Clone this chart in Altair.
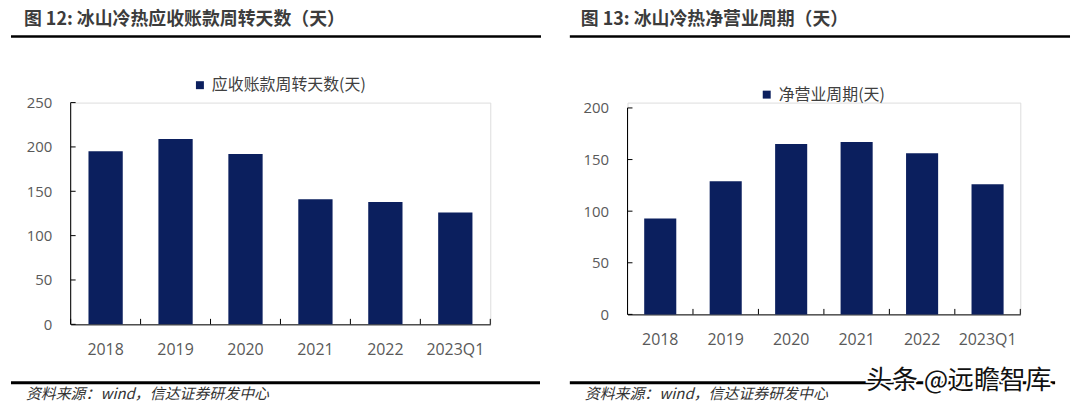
import altair as alt
import pandas as pd

# ---------------- data ----------------
cats = ["2018", "2019", "2020", "2021", "2022", "2023Q1"]
ar_days = [195, 209, 192, 141, 138, 126]          # 应收账款周转天数
net_cycle = [93, 129, 165, 167, 156, 126]         # 净营业周期
left_ticks = [0, 50, 100, 150, 200, 250]
right_ticks = [0, 50, 100, 150, 200]

title_left = "图 12: 冰山冷热应收账款周转天数（天）"
title_right = "图 13: 冰山冷热净营业周期（天）"
legend_left = "应收账款周转天数(天)"
legend_right = "净营业周期(天)"
source_text = "资料来源：wind，信达证券研发中心"
watermark = "头条 @远瞻智库"

NAVY = "#0b1f5e"
LABEL = "#595959"
NUMFONT = "Open Sans"
CJK = "Noto Sans CJK SC"


def one(v):
    return pd.DataFrame({"t": [v]})


def panel(values, ticks, dmax, width, height, legend_name, legend_x, legend_y,
          title, title_x, trule, brule, src_x, wm=False):
    df = pd.DataFrame({"cat": cats, "val": values, "series": legend_name})
    xscale = alt.Scale(domain=cats, paddingInner=0, paddingOuter=0)
    yscale = alt.Scale(domain=[0, dmax], nice=False, zero=True)
    xaxis = alt.Axis(title=None, labelAngle=0, ticks=False, tickSize=0,
                     domain=True, domainColor="black", domainWidth=1,
                     labelPadding=17, labelFontSize=16, labelColor=LABEL,
                     labelFont=NUMFONT, grid=False)
    yaxis = alt.Axis(title=None, values=ticks, ticks=False, tickSize=0,
                     domain=False, grid=False, labelPadding=19,
                     labelFontSize=15, labelColor=LABEL, labelFont=NUMFONT)

    bars = alt.Chart(df).mark_bar(width=alt.RelativeBandSize(0.49)).encode(
        x=alt.X("cat:N", sort=cats, scale=xscale, axis=xaxis),
        y=alt.Y("val:Q", scale=yscale, axis=yaxis),
        color=alt.Color("series:N", scale=alt.Scale(range=[NAVY]),
                        legend=alt.Legend(orient="none", legendX=legend_x, legendY=legend_y,
                                          title=None, symbolType="square", symbolSize=64,
                                          symbolStrokeWidth=0, padding=0,
                                          labelFont=CJK, labelFontSize=16,
                                          labelColor="#404040", labelOffset=4)),
    )

    ydom = alt.Chart(pd.DataFrame({"y0": [0], "y1": [ticks[-1]]})).mark_rule(
        color="black", strokeWidth=1).encode(
        x=alt.value(0),
        y=alt.Y("y0:Q", scale=yscale, axis=yaxis),
        y2="y1:Q",
    )
    yt = alt.Chart(pd.DataFrame({"val": ticks})).mark_rule(color="black", strokeWidth=1).encode(
        x=alt.value(0), x2=alt.value(5),
        y=alt.Y("val:Q", scale=yscale, axis=yaxis),
    )
    xt0 = alt.Chart(pd.DataFrame({"cat": cats})).mark_rule(color="black", strokeWidth=1).encode(
        x=alt.X("cat:N", sort=cats, scale=xscale, bandPosition=0, axis=xaxis),
        y=alt.value(height - 5.5), y2=alt.value(height),
    )
    xt1 = alt.Chart(pd.DataFrame({"cat": cats[-1:]})).mark_rule(color="black", strokeWidth=1).encode(
        x=alt.X("cat:N", sort=cats, scale=xscale, bandPosition=1, axis=xaxis),
        y=alt.value(height - 5.5), y2=alt.value(height),
    )

    ttl = alt.Chart(one(title)).mark_text(
        align="left", baseline="middle", font=CJK, fontSize=18, fontWeight="bold",
        color="#3c3c3c").encode(text="t:N", x=alt.value(title_x), y=alt.value(-83))
    tr = alt.Chart(one(0)).mark_rule(color="black", strokeWidth=2.6).encode(
        x=alt.value(trule[0]), x2=alt.value(trule[1]), y=alt.value(-66.5))
    br = alt.Chart(one(0)).mark_rule(color="black", strokeWidth=3).encode(
        x=alt.value(brule[0]), x2=alt.value(brule[1]), y=alt.value(281.7))
    src = alt.Chart(one(source_text)).mark_text(
        align="left", baseline="middle", font=CJK, fontSize=15, fontStyle="italic",
        color="#333333").encode(text="t:N", x=alt.value(src_x), y=alt.value(293.5))

    layers = [bars, ydom, yt, xt0, xt1, ttl, tr, br, src]
    if wm:
        halo = alt.Chart(one(watermark)).mark_text(
            align="left", baseline="middle", font=CJK, fontSize=26, fontWeight="normal",
            fill="#111111", stroke="white", strokeWidth=4).encode(
            text="t:N", x=alt.value(240), y=alt.value(280))
        wmt = alt.Chart(one(watermark)).mark_text(
            align="left", baseline="middle", font=CJK, fontSize=26, fontWeight="normal",
            color="#111111").encode(text="t:N", x=alt.value(240), y=alt.value(280))
        layers += [halo, wmt]
    else:
        anchor = alt.Chart(one(0)).mark_rule(opacity=0, strokeWidth=0.01).encode(
            x=alt.value(-62), x2=alt.value(-61.5), y=alt.value(-93))
        layers += [anchor]
    return alt.layer(*layers).properties(width=width, height=height)


left = panel(ar_days, left_ticks, 250, 422, 223, legend_left, 122, -25.5,
             title_left, -47, (-60, 473), (-60, 472), -45)
right = panel(net_cycle, right_ticks, 205.2, 395, 213, legend_right, 132, -16,
              title_right, -47, (-58, 445), (-58, 430), -43, wm=True)

chart = alt.hconcat(left, right, spacing=138, bounds="flush").resolve_scale(
    x="independent", y="independent", color="independent"
).properties(padding=0).configure_view(stroke=None).configure(background="white")

chart.save("out.html", embed_options={"renderer": "svg", "actions": False})
